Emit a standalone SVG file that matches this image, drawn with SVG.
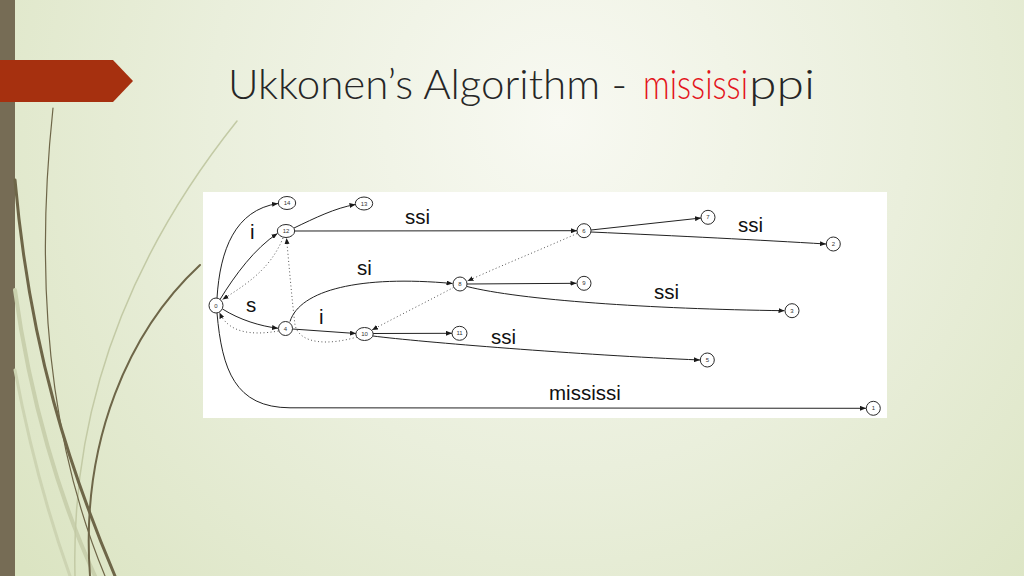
<svg xmlns="http://www.w3.org/2000/svg" width="1024" height="576" viewBox="0 0 1024 576">
  <defs>
    <radialGradient id="bg" cx="560" cy="120" r="700" gradientUnits="userSpaceOnUse">
      <stop offset="0" stop-color="#f8f9f2"/>
      <stop offset="0.5" stop-color="#eaefdc"/>
      <stop offset="1" stop-color="#dbe4c2"/>
    </radialGradient>
    <marker id="arr" markerWidth="6" markerHeight="5" refX="6" refY="2.5" orient="auto" markerUnits="userSpaceOnUse">
      <path d="M0,0 L6,2.5 L0,5 z" fill="#1a1a1a"/>
    </marker>
  </defs>
  <style>
    .node ellipse { fill: #ffffff; stroke: #2a2a2a; stroke-width: 1; }
    .node text { font-family: "Liberation Sans", Arial, sans-serif; font-size: 6px; fill: #333333; text-anchor: middle; }
    .edge { fill: none; stroke: #222222; stroke-width: 1; marker-end: url(#arr); }
    .link { fill: none; stroke: #555555; stroke-width: 1; stroke-dasharray: 1 2.5; marker-end: url(#arr); }
    .lbl { font-family: "Liberation Sans", Arial, sans-serif; font-size: 20.5px; fill: #111111; }
    .title { font-family: Lato, "Liberation Sans", Arial, sans-serif; font-weight: 300; font-size: 42px; fill: #262626; }
    .red { fill: #e3141b; }
    .deco { fill: none; stroke-linecap: round; }
  </style>

  <!-- background -->
  <rect x="0" y="0" width="1024" height="576" fill="url(#bg)"/>
  <rect x="0" y="0" width="15" height="576" fill="#766c55"/>

  <!-- decorative curves -->
  <g id="decor">
    <path class="deco" d="M15,290 C 30,400 60,500 95,576" stroke="#c9d0ad" stroke-width="4"/>
    <path class="deco" d="M15,370 C 30,450 50,520 70,576" stroke="#cdd4b2" stroke-width="3"/>
    <path class="deco" d="M237,121 C 150,230 70,380 75,576" stroke="#c3caa5" stroke-width="1.5"/>
    <path class="deco" d="M53,108 C 38,250 40,420 105,576" stroke="#6e6648" stroke-width="1.2"/>
    <path class="deco" d="M15,180 C 30,350 70,470 115,576" stroke="#6e6648" stroke-width="3"/>
    <path class="deco" d="M200,265 C 130,330 80,440 90,576" stroke="#6e6648" stroke-width="2"/>
  </g>

  <!-- red banner -->
  <polygon points="0,60 113,60 133,81 113,102 0,102" fill="#a6300f"/>

  <!-- title -->
  <text class="title" x="228" y="99" textLength="399" lengthAdjust="spacingAndGlyphs">Ukkonen’s Algorithm -</text>
  <text class="title red" x="643" y="99" textLength="105" lengthAdjust="spacingAndGlyphs">mississi</text>
  <text class="title" x="749" y="99" textLength="66" lengthAdjust="spacingAndGlyphs">ppi</text>

  <!-- diagram panel -->
  <rect x="203" y="192" width="684" height="226" fill="#ffffff"/>

  <g id="connectors">
    <path class="edge" d="M217,298 C 220,250 235,210 278,203.5"/>
    <path class="edge" d="M220,299.5 C 235,275 255,248 277.5,233.5"/>
    <path class="edge" d="M222.5,309 C 240,320 260,326 278,328.3"/>
    <path class="edge" d="M217,313 C 222,370 235,407.5 290,407.8 L 866,408.3"/>
    <path class="edge" d="M294,228 C 315,218 335,208 355.5,204.5"/>
    <path class="edge" d="M294.7,231 L 577,230.7"/>
    <path class="edge" d="M591,230 L 701,218"/>
    <path class="edge" d="M591,232 C 680,236 760,240 826,244"/>
    <path class="edge" d="M290,321.5 C 300,290 360,275 452.5,283.5"/>
    <path class="edge" d="M292.5,329 L 356,333.5"/>
    <path class="edge" d="M467,284 L 576.5,283.3"/>
    <path class="edge" d="M467,286.5 C 520,300 650,309 784.5,310.7"/>
    <path class="edge" d="M373,333.5 L 452,333.3"/>
    <path class="edge" d="M373,336 C 420,342 580,355 700,360"/>

    <path class="link" d="M283,238 C 270,270 245,285 222.5,299.5"/>
    <path class="link" d="M278.5,331 C 250,336 228,332 219.5,312.5"/>
    <path class="link" d="M357,337 C 330,345 300,345 295,325 C 292,300 289,265 286.5,238"/>
    <path class="link" d="M577,233.5 C 540,250 500,266 467.5,281"/>
    <path class="link" d="M453.5,287.5 C 430,300 400,315 372,330"/>
  </g>

  <g id="labels">
    <text class="lbl" x="250" y="239">i</text>
    <text class="lbl" x="246" y="311.5">s</text>
    <text class="lbl" x="405" y="224">ssi</text>
    <text class="lbl" x="357" y="275">si</text>
    <text class="lbl" x="319" y="324">i</text>
    <text class="lbl" x="738" y="231.5">ssi</text>
    <text class="lbl" x="654" y="299">ssi</text>
    <text class="lbl" x="491" y="344">ssi</text>
    <text class="lbl" x="549" y="400">mississi</text>
  </g>

  <g id="node0" class="node"><ellipse cx="216" cy="305.5" rx="7" ry="7.5"/><text x="216" y="307.6">0</text></g>
  <g id="node14" class="node"><ellipse cx="287" cy="203" rx="8.7" ry="6.5"/><text x="287" y="205.1">14</text></g>
  <g id="node13" class="node"><ellipse cx="364" cy="203.5" rx="8.7" ry="6.5"/><text x="364" y="205.6">13</text></g>
  <g id="node12" class="node"><ellipse cx="286" cy="231" rx="8.7" ry="6.5"/><text x="286" y="233.1">12</text></g>
  <g id="node4" class="node"><ellipse cx="285.5" cy="328.5" rx="7" ry="7"/><text x="285.5" y="330.6">4</text></g>
  <g id="node8" class="node"><ellipse cx="460" cy="284" rx="7" ry="7"/><text x="460" y="286.1">8</text></g>
  <g id="node10" class="node"><ellipse cx="364.5" cy="334" rx="8.7" ry="6.5"/><text x="364.5" y="336.1">10</text></g>
  <g id="node11" class="node"><ellipse cx="459.5" cy="333.3" rx="7.5" ry="7"/><text x="459.5" y="335.4">11</text></g>
  <g id="node6" class="node"><ellipse cx="584" cy="230.7" rx="7" ry="7"/><text x="584" y="232.8">6</text></g>
  <g id="node7" class="node"><ellipse cx="708" cy="217.3" rx="7" ry="7"/><text x="708" y="219.4">7</text></g>
  <g id="node2" class="node"><ellipse cx="833.3" cy="244" rx="7" ry="7"/><text x="833.3" y="246.1">2</text></g>
  <g id="node9" class="node"><ellipse cx="584" cy="283.3" rx="7" ry="7"/><text x="584" y="285.4">9</text></g>
  <g id="node3" class="node"><ellipse cx="792" cy="310.7" rx="7" ry="7"/><text x="792" y="312.8">3</text></g>
  <g id="node5" class="node"><ellipse cx="707.3" cy="360" rx="7" ry="7"/><text x="707.3" y="362.1">5</text></g>
  <g id="node1" class="node"><ellipse cx="873.3" cy="408.3" rx="7" ry="7"/><text x="873.3" y="410.4">1</text></g>
</svg>
